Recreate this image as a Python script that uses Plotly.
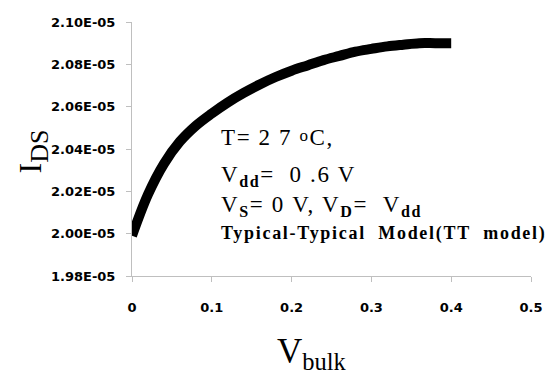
import plotly.graph_objects as go

v_bulk = [0, 0.02, 0.04, 0.06, 0.08, 0.10, 0.12, 0.14, 0.16, 0.18, 0.20,
          0.22, 0.24, 0.26, 0.28, 0.30, 0.32, 0.34, 0.36, 0.38, 0.40]
i_ds = [1.999e-5, 2.0185e-5, 2.0330e-5, 2.0435e-5, 2.0510e-5, 2.0568e-5, 2.0620e-5,
        2.0665e-5, 2.0705e-5, 2.0740e-5, 2.0770e-5, 2.0795e-5, 2.0820e-5, 2.0840e-5,
        2.0860e-5, 2.0873e-5, 2.0885e-5, 2.0893e-5, 2.0900e-5, 2.0900e-5, 2.0900e-5]
x_ticks = [0, 0.1, 0.2, 0.3, 0.4, 0.5]
x_ticklabels = ["0", "0.1", "0.2", "0.3", "0.4", "0.5"]
y_ticks = [1.98e-5, 2.00e-5, 2.02e-5, 2.04e-5, 2.06e-5, 2.08e-5, 2.10e-5]
y_ticklabels = ["1.98E-05", "2.00E-05", "2.02E-05", "2.04E-05", "2.06E-05", "2.08E-05", "2.10E-05"]

fig = go.Figure()
fig.add_trace(go.Scatter(x=v_bulk, y=i_ds, mode="lines",
                         line=dict(color="black", width=10, shape="spline"),
                         showlegend=False, hoverinfo="skip"))

tickfont = dict(family="DejaVu Sans", size=13, color="black", weight="bold")
fig.update_xaxes(range=[0, 0.5], tickvals=x_ticks, ticktext=x_ticklabels,
                 showgrid=False, zeroline=False, showline=True, linecolor="#bfbfbf",
                 linewidth=1, ticks="outside", ticklen=5, tickcolor="#bfbfbf",
                 tickfont=tickfont, ticklabelstandoff=14)
fig.update_yaxes(range=[1.98e-5, 2.10e-5], tickvals=y_ticks, ticktext=y_ticklabels,
                 showgrid=False, zeroline=False, showline=True, linecolor="#bfbfbf",
                 linewidth=1, ticks="outside", ticklen=5, tickcolor="#bfbfbf",
                 tickfont=tickfont, ticklabelstandoff=8)

serif = "Liberation Serif"
W, H = 555, 374
L, R, T, B = 132, 17, 22, 97.5
pw, ph = W - L - R, H - T - B

def px(xp):
    return (xp - L) / pw

def py(yp):
    return (H - B - yp) / ph

NB = "\u00a0"
ls = "letter-spacing:1.6px"
annots = [
    dict(text=f"<span style='{ls}'>T={NB}2{NB}7{NB}<span style='font-size:17px;baseline-shift:4px'>o</span>C,</span>",
         x=px(221), y=py(137.5), size=23, bold=False),
    dict(text=f"<span style='{ls}'>V<sub><b>dd</b></sub>={NB}{NB}0{NB}.6{NB}V</span>",
         x=px(221), y=py(176.5), size=23, bold=False),
    dict(text=f"<span style='{ls}'>V<sub><b>S</b></sub>={NB}0{NB}V,{NB}V<sub><b>D</b></sub>={NB}{NB}V<sub><b>dd</b></sub></span>",
         x=px(221), y=py(206), size=23, bold=False),
    dict(text=f"<span style='letter-spacing:1.7px'>Typical-Typical{NB}{NB}Model(TT{NB}{NB}model)</span>",
         x=px(221), y=py(234), size=18, bold=True),
]
for a in annots:
    fig.add_annotation(text=a["text"], xref="paper", yref="paper", x=a["x"], y=a["y"],
                       xanchor="left", yanchor="middle", showarrow=False,
                       font=dict(family=serif, size=a["size"], color="black",
                                 weight="bold" if a["bold"] else "normal"))

# axis titles
fig.add_annotation(text="V<sub>bulk</sub>", xref="paper", yref="paper",
                   x=px(315), y=py(354), xanchor="center", yanchor="middle",
                   showarrow=False, font=dict(family=serif, size=35, color="black"))
fig.add_annotation(text="I<sub><span style='font-size:26px'>DS</span></sub>", xref="paper", yref="paper",
                   x=px(31), y=py(152), xanchor="center", yanchor="middle", textangle=-90,
                   showarrow=False, font=dict(family=serif, size=32, color="black"))

fig.update_layout(width=W, height=H, margin=dict(l=L, r=R, t=T, b=B),
                  plot_bgcolor="white", paper_bgcolor="white")
fig.write_html("out.html")
